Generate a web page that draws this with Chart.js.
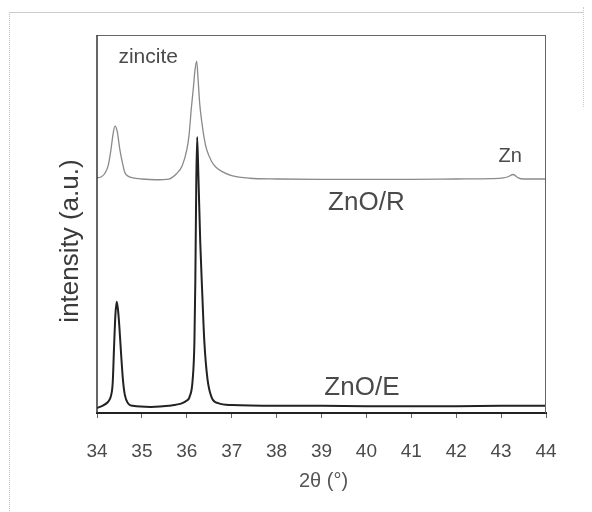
<!DOCTYPE html>
<html lang="en">
<head>
    <meta charset="UTF-8">
    <title>XRD ZnO</title>
    <script src="https://cdn.jsdelivr.net/npm/chart.js"></script>
    <style>
        body {
            margin: 0;
            background: #fff;
            font-family: "Liberation Sans", Arial, sans-serif;
        }
        #wrap {
            position: relative;
            width: 592px;
            height: 512px;
        }
        #frame {
            position: absolute;
            left: 9px;
            top: 12px;
            width: 574px;
            height: 520px;
            border-left: 1px dotted #bbb;
            border-top: 1px solid #ccc;
        }
        #frameRight {
            position: absolute;
            left: 583px;
            top: 7px;
            width: 0;
            height: 100px;
            border-left: 1px dotted #ccc;
        }
        canvas {
            position: absolute;
            left: 0;
            top: 0;
        }
    </style>
</head>
<body>
<div id="wrap">
    <div id="frame"></div>
    <div id="frameRight"></div>
    <canvas id="chartCanvas" width="592" height="512"></canvas>
</div>

<script>
    // 2theta (deg) and intensity (a.u.)
    const xR = [34.0, 34.1, 34.18, 34.25, 34.31, 34.36, 34.4, 34.45, 34.51, 34.57, 34.62, 34.7, 34.8, 35.0, 35.3, 35.6, 35.77, 35.9, 36.0, 36.05, 36.1, 36.15, 36.18, 36.22, 36.25, 36.29, 36.34, 36.39, 36.44, 36.55, 36.65, 36.8, 37.0, 37.4, 38.0, 39.0, 40.0, 41.0, 42.0, 42.8, 43.05, 43.15, 43.27, 43.38, 43.5, 44.0];
    const yR = [62.2, 62.5, 63.5, 65.5, 69.6, 74.0, 75.9, 74.5, 69.6, 66.0, 63.6, 62.6, 62.2, 61.9, 61.7, 61.9, 63.3, 65.5, 69.6, 73.5, 80.5, 86.5, 90.5, 93.1, 88.5, 81.5, 76.5, 72.5, 69.8, 66.6, 65.0, 63.8, 62.8, 62.1, 61.9, 61.8, 61.8, 61.8, 61.9, 62.0, 62.2, 62.5, 63.1, 62.2, 61.9, 61.9];

    const xE = [34.0, 34.15, 34.25, 34.31, 34.35, 34.38, 34.41, 34.44, 34.47, 34.5, 34.54, 34.58, 34.62, 34.69, 34.8, 35.2, 35.6, 35.9, 36.0, 36.06, 36.13, 36.17, 36.19, 36.21, 36.23, 36.26, 36.3, 36.35, 36.39, 36.46, 36.55, 36.7, 37.0, 38.0, 39.0, 40.0, 41.0, 42.0, 43.0, 44.0];
    const yE = [1.3, 2.1, 3.0, 4.5, 8.0, 17.5, 26.0, 29.4, 27.0, 22.5, 15.0, 8.5, 4.8, 2.6, 1.9, 1.6, 1.9, 2.6, 3.3, 4.2, 8.7, 19.0, 35.0, 60.0, 73.0, 62.0, 45.0, 30.0, 19.0, 9.0, 4.2, 2.6, 2.1, 1.9, 1.9, 1.8, 1.8, 1.8, 1.9, 1.9];

    const xTicks = [34, 35, 36, 37, 38, 39, 40, 41, 42, 43, 44];

    // text labels inside the plot
    const notes = [
        { text: "zincite", x: 35.14, y: 94.0, size: 21 },
        { text: "Zn", x: 43.2, y: 67.9, size: 20 },
        { text: "ZnO/R", x: 40.0, y: 55.6, size: 26 },
        { text: "ZnO/E", x: 39.9, y: 6.6, size: 26 }
    ];

    const FONT = "'Liberation Sans', Arial, sans-serif";

    const framePlugin = {
        id: "framePlugin",
        afterDatasetsDraw(chart) {
            const { ctx, chartArea: a, scales } = chart;
            ctx.save();
            // plot box
            ctx.strokeStyle = "#666";
            ctx.lineWidth = 1;
            ctx.beginPath();
            ctx.moveTo(a.left, a.top + 0.5);
            ctx.lineTo(a.right, a.top + 0.5);
            ctx.moveTo(a.right - 0.5, a.top);
            ctx.lineTo(a.right - 0.5, a.bottom);
            ctx.stroke();
            ctx.strokeStyle = "#333";
            ctx.lineWidth = 1.5;
            ctx.beginPath();
            ctx.moveTo(a.left, a.top);
            ctx.lineTo(a.left, a.bottom);
            ctx.stroke();

            // notes
            ctx.fillStyle = "#4a4a4a";
            ctx.textAlign = "center";
            ctx.textBaseline = "middle";
            notes.forEach(n => {
                ctx.font = n.size + "px " + FONT;
                ctx.fillText(n.text, scales.x.getPixelForValue(n.x), scales.y.getPixelForValue(n.y));
            });

            // x title
            ctx.font = "20px " + FONT;
            ctx.fillStyle = "#555";
            ctx.fillText("2θ (°)", (a.left + a.right) / 2 + 2, 481);

            // y title
            ctx.font = "26px " + FONT;
            ctx.fillStyle = "#3a3a3a";
            ctx.translate(71, (a.top + a.bottom) / 2 + 17);
            ctx.rotate(-Math.PI / 2);
            ctx.fillText("intensity (a.u.)", 0, 0);
            ctx.restore();
        }
    };

    const ctx = document.getElementById("chartCanvas").getContext("2d");
    new Chart(ctx, {
        type: "line",
        data: {
            datasets: [
                {
                    label: "ZnO/R",
                    data: xR.map((x, i) => ({ x, y: yR[i] })),
                    borderColor: "#8a8a8a",
                    borderWidth: 1.3,
                    pointRadius: 0,
                    cubicInterpolationMode: "monotone",
                    fill: false
                },
                {
                    label: "ZnO/E",
                    data: xE.map((x, i) => ({ x, y: yE[i] })),
                    borderColor: "#222",
                    borderWidth: 2,
                    pointRadius: 0,
                    cubicInterpolationMode: "monotone",
                    fill: false
                }
            ]
        },
        options: {
            responsive: false,
            animation: false,
            layout: { padding: { left: 97, right: 46, top: 35, bottom: 0 } },
            plugins: {
                legend: { display: false },
                tooltip: { enabled: false }
            },
            scales: {
                x: {
                    type: "linear",
                    min: 34,
                    max: 44,
                    afterBuildTicks: axis => { axis.ticks = xTicks.map(v => ({ value: v })); },
                    afterFit: axis => { axis.height = 99; },
                    grid: { drawOnChartArea: false, drawTicks: true, tickLength: 5, color: "#666" },
                    border: { color: "#222", width: 2 },
                    ticks: {
                        color: "#4a4a4a",
                        padding: 22,
                        font: { size: 19, family: FONT }
                    }
                },
                y: {
                    display: false,
                    min: 0,
                    max: 100
                }
            }
        },
        plugins: [framePlugin]
    });
</script>
</body>
</html>
